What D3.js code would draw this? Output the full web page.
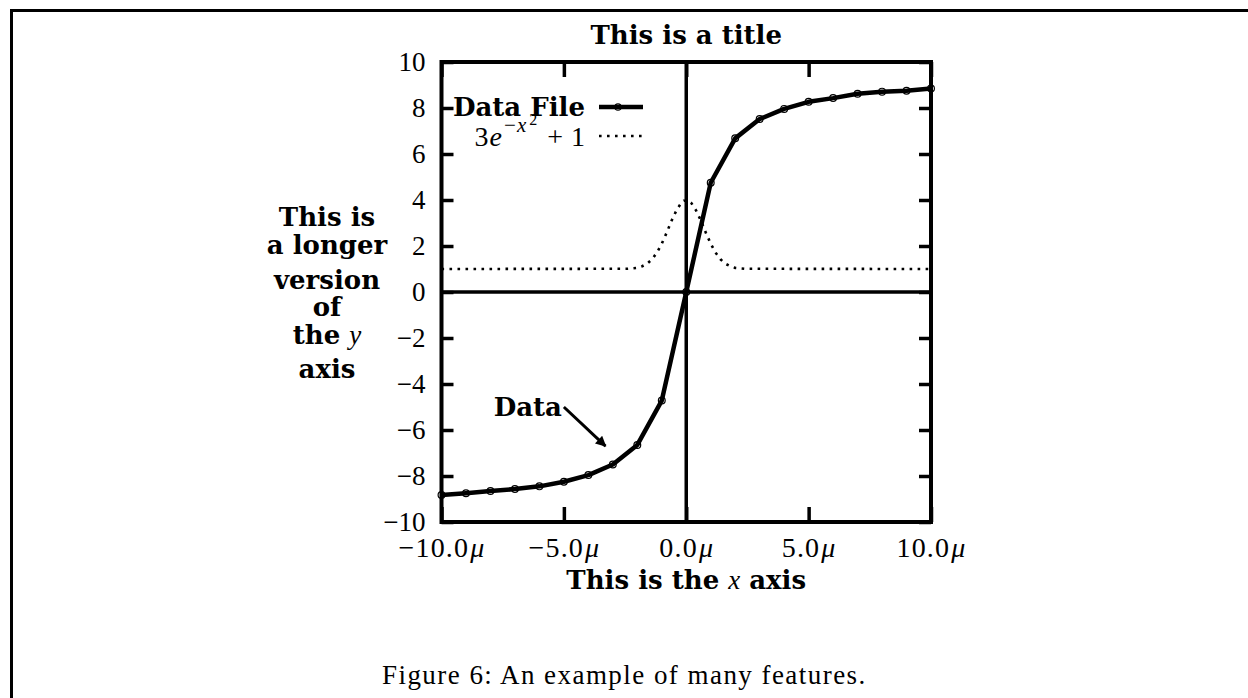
<!DOCTYPE html>
<html>
<head>
<meta charset="utf-8">
<script src="https://cdn.jsdelivr.net/npm/d3@7"></script>
<style>
  html, body { margin: 0; padding: 0; background: #fff; overflow: hidden; width: 1248px; height: 698px; }
  svg { display: block; }
  .rm { font-family: "Liberation Serif", serif; font-size: 27px; }
  .bf { font-family: "DejaVu Serif", serif; font-weight: bold; font-size: 26px; }
  .it { font-style: italic; }
</style>
</head>
<body>
<div id="grafica"></div>
<script>
// data
var dataX = [-10, -9, -8, -7, -6, -5, -4, -3, -2, -1, 0, 1, 2, 3, 4, 5, 6, 7, 8, 9, 10];
var dataY = [-8.83, -8.75, -8.65, -8.57, -8.45, -8.25, -7.96, -7.5, -6.65, -4.72, 0,
             4.75, 6.68, 7.52, 7.96, 8.27, 8.43, 8.62, 8.71, 8.75, 8.85];

// 3e^{-x^2}+1 curve as sampled in the picture
var curveX = [-10, -2.4, -2.0, -1.8, -1.6, -1.4, -1.2, -1.0, -0.8, -0.6, -0.4, -0.2, -0.1,
              0.1, 0.2, 0.4, 0.6, 0.8, 1.0, 1.2, 1.4, 1.6, 1.8, 2.0, 2.4, 10];
var curveY = [1, 1.01, 1.05, 1.12, 1.23, 1.42, 1.71, 2.1, 2.58, 3.1, 3.55, 3.88, 3.97,
              3.97, 3.88, 3.55, 3.1, 2.58, 2.1, 1.71, 1.42, 1.23, 1.12, 1.05, 1.01, 1];

var xTicks = [-10, -5, 0, 5, 10];
var yTicks = [-10, -8, -6, -4, -2, 0, 2, 4, 6, 8, 10];
var yLabelLines = ["This is", "a longer", "version", "of", "the |y|", "axis"];
var arrowFrom = [-5, -5], arrowTo = [-3.3, -6.7];

var W = 1248, H = 698;
var svg = d3.select("#grafica").append("svg")
    .attr("width", W).attr("height", H);

// page frame (only top and left visible)
svg.append("path")
    .attr("d", "M11.5," + H + "V10.5H" + W)
    .attr("fill", "none").attr("stroke", "#000").attr("stroke-width", 3);

var pLeft = 441.5, pRight = 931, pTop = 62, pBottom = 522;
var x = d3.scaleLinear().domain([-10, 10]).range([pLeft, pRight]);
var y = d3.scaleLinear().domain([-10, 10]).range([pBottom, pTop]);

var minus = function (v) { return String(v).replace("-", "\u2212"); };

// axes with inward ticks
var gy = svg.append("g").attr("transform", "translate(" + pLeft + ",0)")
    .call(d3.axisLeft(y).tickValues(yTicks).tickSize(-12).tickPadding(16).tickFormat(minus));
var gyr = svg.append("g").attr("transform", "translate(" + pRight + ",0)")
    .call(d3.axisRight(y).tickValues(yTicks).tickSize(-12).tickFormat(""));
var gx = svg.append("g").attr("transform", "translate(0," + pBottom + ")")
    .call(d3.axisBottom(x).tickValues(xTicks).tickSize(-15).tickPadding(25)
      .tickFormat(function (v) { return minus(v.toFixed(1)); }));
var gxt = svg.append("g").attr("transform", "translate(0," + pTop + ")")
    .call(d3.axisTop(x).tickValues(xTicks).tickSize(-15).tickFormat(""));

[gy, gyr, gx, gxt].forEach(function (g) {
  g.select(".domain").remove();
  g.selectAll(".tick line").attr("stroke", "#000").attr("stroke-width", 3.5);
  g.selectAll("text").attr("class", "rm").attr("fill", "#000");
  g.attr("font-family", null).attr("font-size", null);
});
gy.selectAll("text").attr("dy", "0.33em");
gx.selectAll("text").attr("dy", "0.35em")
    .style("font-size", "28px").style("letter-spacing", "1.2px")
    .each(function () {
      var t = d3.select(this), s = t.text();
      t.text(s);
      t.append("tspan").attr("class", "it").attr("dx", 1).style("font-size", "28px").text("\u03bc");
    });

// zero axes
svg.append("line").attr("x1", x(0)).attr("x2", x(0)).attr("y1", y(-10)).attr("y2", y(10))
    .attr("stroke", "#000").attr("stroke-width", 3.5);
svg.append("line").attr("x1", x(-10)).attr("x2", x(10)).attr("y1", y(0)).attr("y2", y(0))
    .attr("stroke", "#000").attr("stroke-width", 3.5);

// frame
svg.append("rect").attr("x", pLeft).attr("y", pTop)
    .attr("width", pRight - pLeft).attr("height", pBottom - pTop)
    .attr("fill", "none").attr("stroke", "#000").attr("stroke-width", 4);

// dotted function curve
var curve = curveX.map(function (v, i) { return [v, curveY[i]]; });
svg.append("path").datum(curve)
    .attr("d", d3.line().x(function (d) { return x(d[0]); }).y(function (d) { return y(d[1]); }))
    .attr("fill", "none").attr("stroke", "#000").attr("stroke-width", 2.6)
    .attr("stroke-dasharray", "2.6 5.4");

// data line with points
var pts = dataX.map(function (v, i) { return [v, dataY[i]]; });
svg.append("path").datum(pts)
    .attr("d", d3.line().x(function (d) { return x(d[0]); }).y(function (d) { return y(d[1]); }))
    .attr("fill", "none").attr("stroke", "#000").attr("stroke-width", 4.5)
    .attr("stroke-linejoin", "round");
svg.selectAll("circle.pt").data(pts).enter().append("circle").attr("class", "pt")
    .attr("cx", function (d) { return x(d[0]); }).attr("cy", function (d) { return y(d[1]); })
    .attr("r", 3.4).attr("fill", "none").attr("stroke", "#000").attr("stroke-width", 1.2);

// arrow + label
svg.append("defs").append("marker").attr("id", "ah")
    .attr("viewBox", "0 0 10 10").attr("refX", 9).attr("refY", 5)
    .attr("markerWidth", 4.5).attr("markerHeight", 3.5).attr("orient", "auto")
    .attr("markerUnits", "strokeWidth")
  .append("path").attr("d", "M0,0L10,5L0,10z").attr("fill", "#000");
svg.append("line")
    .attr("x1", x(arrowFrom[0])).attr("y1", y(arrowFrom[1]))
    .attr("x2", x(arrowTo[0])).attr("y2", y(arrowTo[1]))
    .attr("stroke", "#000").attr("stroke-width", 3).attr("marker-end", "url(#ah)");
svg.append("text").attr("class", "bf").attr("text-anchor", "end")
    .attr("x", x(arrowFrom[0]) - 2).attr("y", y(arrowFrom[1]) + 9).text("Data");

// legend
var kx1 = 599, kx2 = 643, ktx = 585;
svg.append("text").attr("class", "bf").attr("text-anchor", "end")
    .attr("x", ktx).attr("y", 116).text("Data File");
svg.append("line").attr("x1", kx1).attr("x2", kx2).attr("y1", 107).attr("y2", 107)
    .attr("stroke", "#000").attr("stroke-width", 4.5);
svg.append("circle").attr("cx", (kx1 + kx2) / 2 - 3).attr("cy", 107).attr("r", 3.2)
    .attr("fill", "none").attr("stroke", "#000").attr("stroke-width", 1.2);
var k2 = svg.append("text").attr("class", "rm").attr("text-anchor", "end")
    .attr("x", ktx).attr("y", 146).style("font-size", "28px");
k2.append("tspan").text("3");
k2.append("tspan").attr("class", "it").attr("dx", 1).text("e");
k2.append("tspan").attr("dy", -14).attr("dx", 2).style("font-size", "21px").text("\u2212");
k2.append("tspan").attr("class", "it").attr("dx", 1).style("font-size", "21px").text("x");
k2.append("tspan").attr("dy", -7).attr("dx", 3).style("font-size", "16px").text("2");
k2.append("tspan").attr("dy", 21).attr("dx", 10).text("+");
k2.append("tspan").attr("dx", 8).text("1");
svg.append("line").attr("x1", kx1).attr("x2", kx2).attr("y1", 136).attr("y2", 136)
    .attr("stroke", "#000").attr("stroke-width", 2.6).attr("stroke-dasharray", "2.6 5.4");

// title and axis labels
svg.append("text").attr("class", "bf").attr("text-anchor", "middle")
    .attr("x", (pLeft + pRight) / 2).attr("y", 44).text("This is a title");
var xl = svg.append("text").attr("class", "bf").attr("text-anchor", "middle")
    .attr("x", (pLeft + pRight) / 2).attr("y", 589);
xl.append("tspan").text("This is the ");
xl.append("tspan").attr("class", "rm it").style("font-weight", "normal").text("x");
xl.append("tspan").text(" axis");

var yBase = [226, 254, 289, 316, 344, 378];
yLabelLines.forEach(function (s, i) {
  var t = svg.append("text").attr("class", "bf").attr("text-anchor", "middle")
      .attr("x", 327).attr("y", yBase[i]);
  s.split("|").forEach(function (part, j) {
    var sp = t.append("tspan").text(part);
    if (j % 2 == 1) sp.attr("class", "rm it").style("font-weight", "normal");
  });
});

// caption
svg.append("text").attr("class", "rm").attr("x", 382).attr("y", 684)
    .style("letter-spacing", "1.45px")
    .text("Figure 6: An example of many features.");
</script>
</body>
</html>
